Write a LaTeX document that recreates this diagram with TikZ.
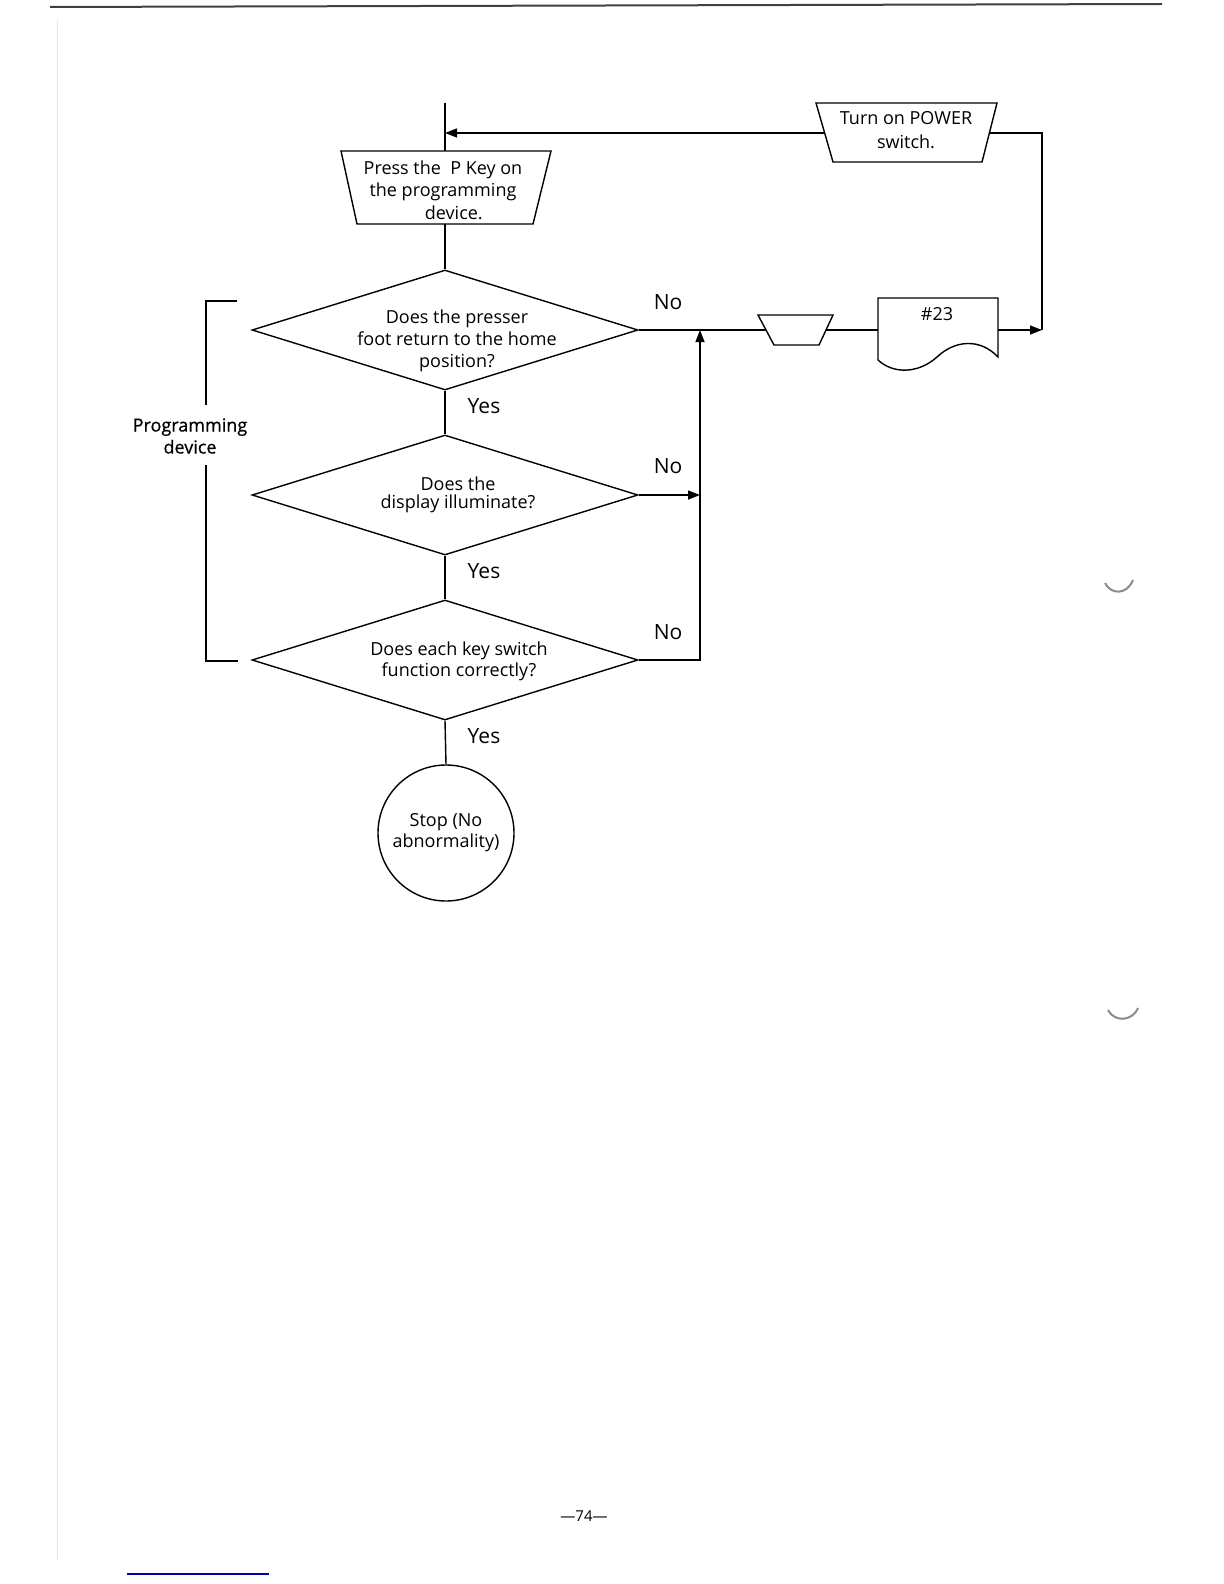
\documentclass[tikz,border=0pt]{standalone}
\usepackage{fontspec}
\setmainfont{Open Sans}
\newfontfamily\boldish[FakeBold=0.6]{Open Sans}
\usetikzlibrary{arrows.meta,shapes.geometric}
\begin{document}
\begin{tikzpicture}[x=0.5pt,y=-0.5pt, line width=0.7pt,
  dia/.style={diamond,draw,inner sep=0pt,minimum width=193pt,minimum height=60pt},
  txt/.style={align=center,font=\fontsize{9}{11}\selectfont,inner sep=0pt},
  lbl/.style={font=\fontsize{10.5}{12}\selectfont,inner sep=0pt},
  arr/.style={-{Triangle[length=6pt,width=4.5pt]}},
  shp/.style={draw,line width=0.7pt}
  ]
\useasboundingbox (0,0) rectangle (1224,1584);
\fill[white] (0,0) rectangle (1224,1584);

% page furniture
\draw[line width=1pt,black!75] (50,7) -- (1162,4);
\draw[line width=0.4pt,black!10] (57,20) -- (57,1560);
\draw[line width=0.6pt,blue!70!black] (127,1574) -- (269,1574);
\node[font=\fontsize{7.5}{9}\selectfont] (pg) at (584,1516) {—74—};
\draw[line width=1pt,black!45] (1105,583) .. controls (1111,595) and (1127,595) .. (1133,580);
\draw[line width=1pt,black!45] (1108,1010) .. controls (1114,1022) and (1132,1022) .. (1138,1008);

% start line
\coordinate (top) at (445,103);

% Press the P key (manual operation)
\draw[shp] (341,151) -- (551,151) -- (533,224) -- (357,224) -- cycle;
\coordinate (pN) at (445,151);
\coordinate (pS) at (445,224);
\node[txt,font=\fontsize{9}{11.2}\selectfont] (ptext) at (443,190) {Press the~ P Key on\\the programming\\\hspace{1.2em}device.};

% Turn on POWER switch
\draw[shp] (816,103) -- (997,103) -- (982,162) -- (833,162) -- cycle;
\coordinate (tW) at (824.6,133);
\coordinate (tE) at (989.3,133);
\node[txt,font=\fontsize{9}{12}\selectfont] (ttext) at (906,130) {Turn on POWER\\switch.};

% small manual operation
\draw[shp] (758,315) -- (833,315) -- (819,345) -- (774,345) -- cycle;
\coordinate (sW) at (766,330);
\coordinate (sE) at (826,330);

% document #23
\draw[shp] (878,298) -- (998,298) -- (998,357)
  .. controls (980,338) and (955,340) .. (937,357)
  .. controls (918,374) and (893,374) .. (878,360) -- cycle;
\coordinate (dW) at (878,330);
\coordinate (dE) at (998,330);
\node[txt,font=\fontsize{9}{11}\selectfont] (doc) at (937,314) {\#23};

% decisions
\node[dia] (d1) at (445,330) {};
\node[txt] (d1t) at (457,341) {Does the presser\\foot return to the home\\position?};
\node[dia] (d2) at (445,495) {};
\node[txt,font=\fontsize{9}{9.2}\selectfont] (d2t) at (458,495) {Does the\\display illuminate?};
\node[dia] (d3) at (445,660) {};
\node[txt,font=\fontsize{9}{10.6}\selectfont] (d3t) at (459,661) {Does each key switch\\function correctly?};

% terminal
\node[circle,draw,inner sep=0pt,minimum size=68pt,align=center,
      font=\fontsize{9}{10.5}\selectfont] (stop) at (446,833) {Stop (No\\abnormality)};

% labels
\node[lbl] (no1) at (668,302) {No};
\node[lbl] (no2) at (668,466) {No};
\node[lbl] (no3) at (668,632) {No};
\node[lbl] (y1) at (484,406) {Yes};
\node[lbl] (y2) at (484,571) {Yes};
\node[lbl] (y3) at (484,736) {Yes};

% Programming device bracket
\node[align=center,inner sep=0pt,font=\boldish\fontsize{9}{11}\selectfont] (prog) at (190,436) {Programming\\device};
\coordinate (bT) at (237,301);
\coordinate (bB) at (238,661);
\draw (bT) -- (206,301) -- (206,405);
\draw (206,465) -- (206,661) -- (bB);

% connectors
\coordinate (c1) at (1042,133);
\coordinate (c2) at (1042,330);
\coordinate (v1) at (700,330);
\coordinate (v2) at (700,495);
\coordinate (v3) at (700,660);
\draw (top) -- (pN);
\draw[arr] (tW) -- (445,133);
\draw (pS) -- (d1.north);
\draw (d1.south) -- (d2.north);
\draw (d2.south) -- (d3.north);
\draw (d3.south) -- (stop.north);
\draw (d1.east) -- (sW);
\draw (sE) -- (dW);
\draw[arr] (dE) -- (c2);
\draw (tE) -- (c1) -- (c2);
\draw[arr] (d2.east) -- (v2);
\draw[arr] (d3.east) -- (v3) -- (v1);
\end{tikzpicture}
\end{document}
